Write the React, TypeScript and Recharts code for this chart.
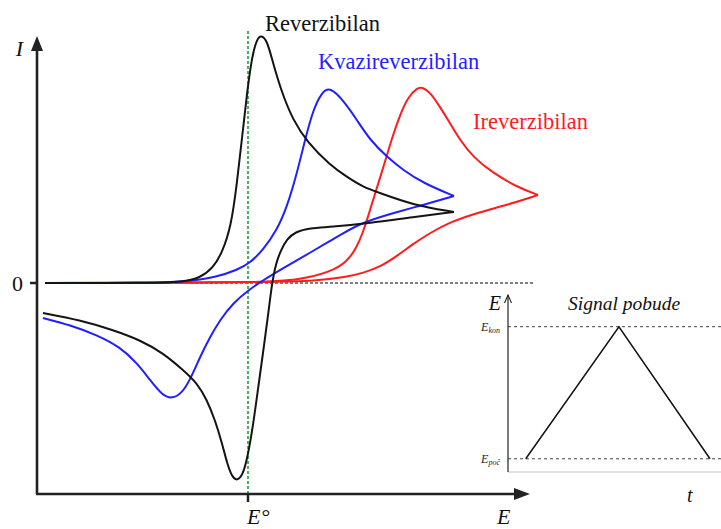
import React from 'react';
import { LineChart, Line, XAxis, YAxis, ReferenceLine, ReferenceDot } from 'recharts';

const SERIF = '"Liberation Serif", "Times New Roman", serif';

// ---- Cyclic voltammograms: E in mV relative to E°, I in arbitrary units ----
// Reverzibilan (black)
const revFwdE = [-203, -98, -65, -48, -35, -26, -17, -11, -6, -1, 4, 9, 13, 19, 25, 34, 45, 59, 82, 99, 115, 132, 165, 206];
const revFwdI = [0, 0, 1, 5, 15, 30, 56, 100, 145, 190, 227, 244, 248, 243, 220, 190, 163, 141, 118, 106, 96, 90, 78, 71];
const revRevE = [-205, -168, -135, -108, -85, -65, -51, -41, -33, -26, -21, -16, -11, -5, 0, 5, 10, 15, 20, 24, 28, 33, 39, 47, 62, 82, 122, 165, 206];
const revRevI = [-30, -37, -47, -57, -70, -87, -100, -117, -137, -160, -180, -194, -198, -192, -172, -143, -106, -70, -33, 0, 20, 33, 44, 51, 55, 56, 60, 66, 71];

// Kvazireverzibilan (blue)
const quaFwdE = [-203, -98, -65, -31, -11, 2, 15, 29, 39, 49, 57, 65, 74, 82, 95, 109, 122, 139, 155, 175, 206];
const quaFwdI = [0, 0, 1, 6, 13, 20, 33, 53, 76, 110, 143, 173, 191, 196, 183, 163, 143, 126, 113, 100, 87];
const quaRevE = [-205, -178, -151, -128, -111, -98, -86, -76, -66, -58, -48, -38, -28, -15, 2, 14, 32, 65, 82, 92, 115, 149, 175, 206];
const quaRevI = [-35, -42, -52, -64, -80, -97, -112, -116, -110, -97, -74, -54, -37, -20, -6, 2, 13, 32, 42, 48, 61, 71, 78, 87];

// Ireverzibilan (red)
const irrFwdE = [-203, 2, 52, 82, 99, 109, 115, 120, 125, 132, 139, 145, 152, 160, 169, 174, 182, 192, 202, 212, 225, 245, 269, 290];
const irrFwdI = [0, 0, 3, 11, 21, 36, 51, 66, 83, 105, 128, 148, 168, 186, 195, 196, 191, 176, 160, 143, 126, 110, 96, 88];
const irrRevE = [-203, 32, 65, 99, 115, 132, 149, 165, 182, 202, 232, 259, 290];
const irrRevI = [0, 1, 2, 6, 10, 16, 27, 39, 50, 61, 71, 78, 88];

const mainXTicks = [0];
const mainYTicks = [0];

// ---- Excitation signal (inset) ----
const signalT = [1, 6.25, 11.38];
const signalE = [0, 1, 0];
const signalTicks = [0, 1];
const signalTickSubs = ['poč', 'kon'];

type Pt = { E: number; I: number };
const zip = (es: number[], is: number[]): Pt[] => es.map((e, k) => ({ E: e, I: is[k] }));

const revFwd = zip(revFwdE, revFwdI);
const revRev = zip(revRevE, revRevI);
const quaFwd = zip(quaFwdE, quaFwdI);
const quaRev = zip(quaRevE, quaRevI);
const irrFwd = zip(irrFwdE, irrFwdI);
const irrRev = zip(irrRevE, irrRevI);
const signal = signalT.map((t, k) => ({ t, E: signalE[k] }));

const BLACK = '#141414';
const BLUE = '#1f1fff';
const RED = '#ff1c1c';

const ETick = (props: any) => {
  const { x, y } = props;
  return (
    <text x={x - 1} y={y + 20} fontFamily={SERIF} fontSize={22} fill="#111">
      <tspan fontStyle="italic">E</tspan>
      <tspan dx={1}>°</tspan>
    </text>
  );
};

const InsetTick = (props: any) => {
  const { x, y, payload } = props;
  const idx = signalTicks.indexOf(payload.value);
  return (
    <text x={x} y={y + 4} textAnchor="end" fontFamily={SERIF} fontStyle="italic" fill="#222">
      <tspan fontSize={12}>E</tspan>
      <tspan fontSize={8} dy={2}>{signalTickSubs[idx]}</tspan>
    </text>
  );
};

const upArrow = (p: any) => (
  <polygon points={`${p.cx},${p.cy} ${p.cx - 6},${p.cy + 15} ${p.cx + 6},${p.cy + 15}`} fill="#222" />
);
const rightArrow = (p: any) => (
  <polygon points={`${p.cx},${p.cy} ${p.cx - 16},${p.cy - 6} ${p.cx - 16},${p.cy + 6}`} fill="#222" />
);
const openUpArrow = (p: any) => (
  <path d={`M${p.cx - 3.5},${p.cy + 8} L${p.cx},${p.cy} L${p.cx + 3.5},${p.cy + 8}`} stroke="#222" strokeWidth={1.1} fill="none" />
);

const textShape = (
  text: string,
  color: string,
  size: number,
  italic: boolean,
  anchor: 'start' | 'end' | 'middle' = 'start',
  dx = 0
) => (p: any) => (
  <text
    x={p.cx + dx}
    y={p.cy}
    fill={color}
    fontSize={size}
    fontFamily={SERIF}
    fontStyle={italic ? 'italic' : 'normal'}
    textAnchor={anchor}
  >
    {text}
  </text>
);

const lineProps = {
  dataKey: 'I',
  dot: false,
  activeDot: false,
  isAnimationActive: false,
  type: 'basis' as const,
  strokeWidth: 2,
};

export default function App() {
  return (
    <div style={{ position: 'fixed', left: 0, top: 0, width: 721, height: 529, background: '#fff' }}>
      <div style={{ position: 'absolute', left: 0, top: 0 }}>
        <LineChart width={721} height={529} margin={{ top: 29, right: 176, bottom: 0, left: 0 }}>
          <XAxis
            type="number"
            dataKey="E"
            domain={[-211, 297]}
            allowDataOverflow
            height={35}
            axisLine={false}
            ticks={mainXTicks}
            interval={0}
            tickSize={8}
            tickLine={{ stroke: '#222', strokeWidth: 2.5 }}
            tick={<ETick />}
          />
          <YAxis
            type="number"
            dataKey="I"
            domain={[-211, 254]}
            allowDataOverflow
            width={37}
            axisLine={false}
            ticks={mainYTicks}
            interval={0}
            tickSize={7}
            tickMargin={7}
            tickLine={{ stroke: '#222', strokeWidth: 2.5 }}
            tick={{ fontSize: 22, fill: '#111', fontFamily: SERIF }}
          />
          <ReferenceLine
            segment={[{ x: -203, y: 0 }, { x: 285, y: 0 }]}
            stroke="#555"
            strokeDasharray="3 2"
            strokeWidth={1.3}
            ifOverflow="visible"
          />
          <ReferenceLine x={0} stroke="#1e9e3e" strokeDasharray="3 2" strokeWidth={1.6} ifOverflow="visible" />
          <ReferenceLine
            segment={[{ x: -211, y: -211 }, { x: -211, y: 236 }]}
            stroke="#222"
            strokeWidth={2.6}
            ifOverflow="visible"
          />
          <ReferenceLine
            segment={[{ x: -212, y: -211 }, { x: 270, y: -211 }]}
            stroke="#222"
            strokeWidth={2.6}
            ifOverflow="visible"
          />
          <ReferenceDot x={-211} y={247} r={0} ifOverflow="visible" shape={upArrow} />
          <ReferenceDot x={282} y={-211} r={0} ifOverflow="visible" shape={rightArrow} />

          <Line data={irrRev} stroke={RED} {...lineProps} />
          <Line data={irrFwd} stroke={RED} {...lineProps} />
          <Line data={quaRev} stroke={BLUE} {...lineProps} />
          <Line data={quaFwd} stroke={BLUE} {...lineProps} />
          <Line data={revRev} stroke={BLACK} {...lineProps} />
          <Line data={revFwd} stroke={BLACK} {...lineProps} />

          <ReferenceDot x={-211} y={227} r={0} ifOverflow="visible" shape={textShape('I', '#111', 22, true, 'end', -14)} />
          <ReferenceDot x={17} y={252} r={0} ifOverflow="visible" shape={textShape('Reverzibilan', '#111', 22.5, false)} />
          <ReferenceDot x={70} y={214} r={0} ifOverflow="visible" shape={textShape('Kvazireverzibilan', BLUE, 22.5, false)} />
          <ReferenceDot x={225} y={154} r={0} ifOverflow="visible" shape={textShape('Ireverzibilan', RED, 22.5, false)} />
          <ReferenceDot x={249} y={-241} r={0} ifOverflow="visible" shape={textShape('E', '#111', 22, true)} />
        </LineChart>
      </div>

      <div style={{ position: 'absolute', left: 440, top: 280 }}>
        <LineChart width={281} height={249} margin={{ top: 15, right: 0, bottom: 0, left: 28 }}>
          <XAxis
            type="number"
            dataKey="t"
            domain={[0, 12]}
            allowDataOverflow
            height={57}
            axisLine={{ stroke: '#d6d6d6', strokeWidth: 1.5 }}
            tick={false}
            tickLine={false}
          />
          <YAxis
            type="number"
            dataKey="E"
            domain={[-0.1, 1.24]}
            allowDataOverflow
            width={40}
            axisLine={{ stroke: '#222', strokeWidth: 1.2 }}
            tickLine={false}
            ticks={signalTicks}
            interval={0}
            tick={<InsetTick />}
          />
          <ReferenceLine y={1} stroke="#444" strokeDasharray="3 3" strokeWidth={1} />
          <ReferenceLine y={0} stroke="#444" strokeDasharray="3 3" strokeWidth={1} />
          <Line
            data={signal}
            dataKey="E"
            stroke="#111"
            strokeWidth={1.5}
            dot={false}
            activeDot={false}
            type="linear"
            isAnimationActive={false}
          />
          <ReferenceDot x={0} y={1.24} r={0} ifOverflow="visible" shape={openUpArrow} />
          <ReferenceDot x={-0.39} y={1.126} r={0} ifOverflow="visible" shape={textShape('E', '#111', 20, true, 'end')} />
          <ReferenceDot x={3.38} y={1.126} r={0} ifOverflow="visible" shape={textShape('Signal pobude', '#111', 19.5, true)} />
          <ReferenceDot x={10.08} y={-0.327} r={0} ifOverflow="visible" shape={textShape('t', '#111', 20, true)} />
        </LineChart>
      </div>
    </div>
  );
}
